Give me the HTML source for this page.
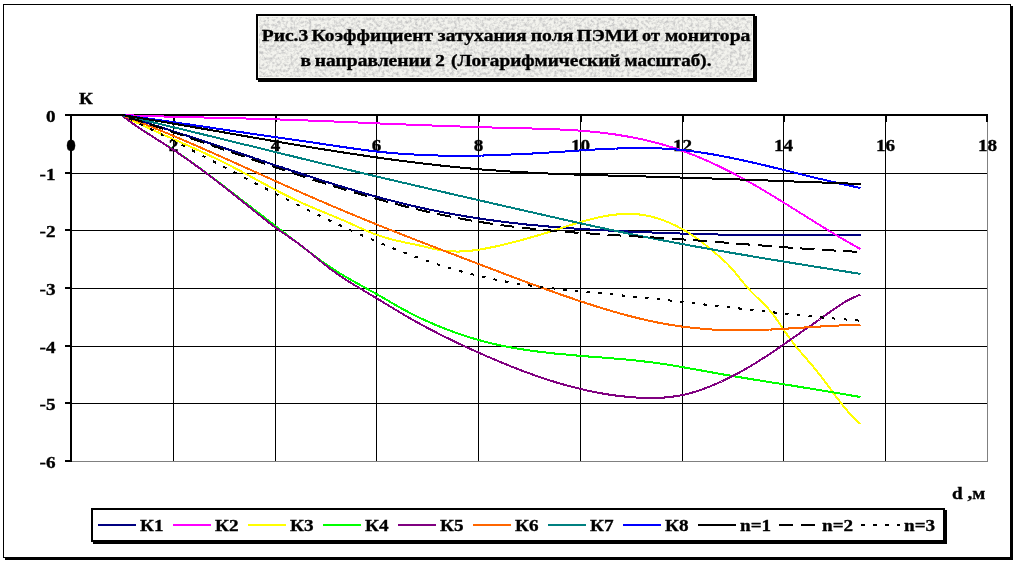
<!DOCTYPE html>
<html><head><meta charset="utf-8"><title>Рис.3</title>
<style>html,body{margin:0;padding:0;background:#fff;width:1017px;height:563px;overflow:hidden}svg{display:block}</style>
</head><body>
<svg width="1017" height="563" viewBox="0 0 1017 563">
<defs>
<filter id="granite" x="0" y="0" width="100%" height="100%" color-interpolation-filters="sRGB">
<feTurbulence type="fractalNoise" baseFrequency="0.33" numOctaves="3" seed="11" result="n"/>
<feColorMatrix in="n" type="matrix" values="0 0 0 0 0  0 0 0 0 0  0 0 0 0 0  -2.4 0 0 0 1.45" result="a"/>
<feFlood flood-color="#f3f3ee" result="bg"/>
<feFlood flood-color="#c4c4c4" result="dk"/>
<feComposite in="dk" in2="a" operator="in" result="dk2"/>
<feMerge><feMergeNode in="bg"/><feMergeNode in="dk2"/></feMerge>
</filter>
</defs>
<rect width="1017" height="563" fill="#fff"/>
<g shape-rendering="crispEdges">
<rect x="1011" y="6" width="2" height="554" fill="#000"/>
<rect x="5" y="558" width="1008" height="2" fill="#000"/>
<rect x="3.5" y="4.5" width="1007" height="553" fill="none" stroke="#000" stroke-width="1"/>
</g>
<g shape-rendering="crispEdges">
<rect x="258" y="16" width="499" height="66" fill="#000"/>
<rect x="256" y="14" width="499" height="66" fill="#000"/>
<rect x="258" y="16" width="495" height="62" fill="#fafaf5"/>
<rect x="259" y="17" width="493" height="60" filter="url(#granite)"/>
</g>
<g style="font-family:'Liberation Serif','Times New Roman',serif;font-weight:bold;font-size:17.7px" fill="#000" stroke="#000" stroke-width="0.35">
<text x="261.7" y="41" textLength="46.6" lengthAdjust="spacingAndGlyphs">Рис.3</text>
<text x="311.6" y="41" textLength="121.4" lengthAdjust="spacingAndGlyphs">Коэффициент</text>
<text x="437.8" y="41" textLength="88.8" lengthAdjust="spacingAndGlyphs">затухания</text>
<text x="530.7" y="41" textLength="42.8" lengthAdjust="spacingAndGlyphs">поля</text>
<text x="576.8" y="41" textLength="61.2" lengthAdjust="spacingAndGlyphs">ПЭМИ</text>
<text x="642.1" y="41" textLength="17.9" lengthAdjust="spacingAndGlyphs">от</text>
<text x="664.9" y="41" textLength="85.5" lengthAdjust="spacingAndGlyphs">монитора</text>
<text x="300.6" y="66" textLength="10.5" lengthAdjust="spacingAndGlyphs">в</text>
<text x="314.8" y="66" textLength="116.2" lengthAdjust="spacingAndGlyphs">направлении</text>
<text x="435.3" y="66" textLength="9.6" lengthAdjust="spacingAndGlyphs">2</text>
<text x="451.1" y="66" textLength="169.3" lengthAdjust="spacingAndGlyphs">(Логарифмический</text>
<text x="624.5" y="66" textLength="87.0" lengthAdjust="spacingAndGlyphs">масштаб).</text>
</g>
<g style="font-family:'Liberation Serif','Times New Roman',serif;font-weight:bold;font-size:17.7px" fill="#000" stroke="#000" stroke-width="0.35">
<text transform="translate(79,104) scale(1.083,1)">К</text>
<text transform="translate(952,499) scale(1.083,1)">d ,м</text>
<text transform="translate(55.5,122) scale(1.083,1)" text-anchor="end">0</text>
<text transform="translate(55.5,180) scale(1.083,1)" text-anchor="end">-1</text>
<text transform="translate(55.5,237) scale(1.083,1)" text-anchor="end">-2</text>
<text transform="translate(55.5,295) scale(1.083,1)" text-anchor="end">-3</text>
<text transform="translate(55.5,353) scale(1.083,1)" text-anchor="end">-4</text>
<text transform="translate(55.5,410) scale(1.083,1)" text-anchor="end">-5</text>
<text transform="translate(55.5,468) scale(1.083,1)" text-anchor="end">-6</text>
<text transform="translate(71,151) scale(1.083,1)" text-anchor="middle">0</text>
<text transform="translate(173.5,151) scale(1.083,1)" text-anchor="middle">2</text>
<text transform="translate(275.5,151) scale(1.083,1)" text-anchor="middle">4</text>
<text transform="translate(376.5,151) scale(1.083,1)" text-anchor="middle">6</text>
<text transform="translate(478.5,151) scale(1.083,1)" text-anchor="middle">8</text>
<text transform="translate(580.5,151) scale(1.083,1)" text-anchor="middle">10</text>
<text transform="translate(682.5,151) scale(1.083,1)" text-anchor="middle">12</text>
<text transform="translate(783.5,151) scale(1.083,1)" text-anchor="middle">14</text>
<text transform="translate(885.5,151) scale(1.083,1)" text-anchor="middle">16</text>
<text transform="translate(987.5,151) scale(1.083,1)" text-anchor="middle">18</text>
</g>
<ellipse cx="71" cy="145" rx="3.3" ry="5.2" fill="#000"/>
<g shape-rendering="crispEdges" fill="#000">
<rect x="173" y="116" width="1" height="345"/>
<rect x="275" y="116" width="1" height="345"/>
<rect x="376" y="116" width="1" height="345"/>
<rect x="478" y="116" width="1" height="345"/>
<rect x="580" y="116" width="1" height="345"/>
<rect x="682" y="116" width="1" height="345"/>
<rect x="783" y="116" width="1" height="345"/>
<rect x="885" y="116" width="1" height="345"/>
<rect x="72" y="173" width="915" height="1"/>
<rect x="72" y="230" width="915" height="1"/>
<rect x="72" y="288" width="915" height="1"/>
<rect x="72" y="346" width="915" height="1"/>
<rect x="72" y="403" width="915" height="1"/>
<rect x="987" y="116" width="1" height="346" fill="#808080"/>
<rect x="72" y="461" width="916" height="1" fill="#808080"/>
<rect x="173" y="116" width="2" height="6"/>
<rect x="275" y="116" width="2" height="6"/>
<rect x="376" y="116" width="2" height="6"/>
<rect x="478" y="116" width="2" height="6"/>
<rect x="580" y="116" width="2" height="6"/>
<rect x="682" y="116" width="2" height="6"/>
<rect x="783" y="116" width="2" height="6"/>
<rect x="885" y="116" width="2" height="6"/>
<rect x="986" y="116" width="2" height="6"/>
<rect x="65" y="114" width="5" height="2"/>
<rect x="65" y="172" width="5" height="2"/>
<rect x="65" y="229" width="5" height="2"/>
<rect x="65" y="287" width="5" height="2"/>
<rect x="65" y="345" width="5" height="2"/>
<rect x="65" y="402" width="5" height="2"/>
<rect x="65" y="460" width="5" height="2"/>
<rect x="70" y="114" width="918" height="2"/>
<rect x="70" y="114" width="2" height="348"/>
</g>
<g fill="none" stroke-width="2" stroke-linejoin="round" shape-rendering="crispEdges">
<path d="M121.5,115.0 L123.5,115.6 L125.5,116.2 L127.5,116.8 L129.5,117.5 L131.5,118.1 L133.5,118.7 L135.5,119.3 L137.5,119.9 L139.5,120.5 L141.5,121.2 L143.5,121.8 L145.5,122.4 L147.5,123.0 L149.5,123.7 L151.5,124.3 L153.5,124.9 L155.5,125.6 L157.5,126.2 L159.5,126.8 L161.5,127.5 L163.5,128.1 L165.5,128.8 L167.5,129.4 L169.5,130.0 L171.5,130.7 L173.5,131.3 L175.5,132.0 L177.5,132.6 L179.5,133.3 L181.5,133.9 L183.5,134.6 L185.5,135.2 L187.5,135.9 L189.5,136.5 L191.5,137.2 L193.5,137.9 L195.5,138.5 L197.5,139.2 L199.5,139.8 L201.5,140.5 L203.5,141.2 L205.5,141.8 L207.5,142.5 L209.5,143.1 L211.5,143.8 L213.5,144.5 L215.5,145.1 L217.5,145.8 L219.5,146.5 L221.5,147.2 L223.5,147.8 L225.5,148.5 L227.5,149.2 L229.5,149.8 L231.5,150.5 L233.5,151.2 L235.5,151.8 L237.5,152.5 L239.5,153.2 L241.5,153.9 L243.5,154.5 L245.5,155.2 L247.5,155.9 L249.5,156.5 L251.5,157.2 L253.5,157.9 L255.5,158.6 L257.5,159.2 L259.5,159.9 L261.5,160.6 L263.5,161.2 L265.5,161.9 L267.5,162.6 L269.5,163.3 L271.5,163.9 L273.5,164.6 L275.5,165.3 L277.5,165.9 L279.5,166.6 L281.5,167.2 L283.5,167.9 L285.5,168.6 L287.5,169.2 L289.5,169.9 L291.5,170.6 L293.5,171.2 L295.5,171.9 L297.5,172.5 L299.5,173.2 L301.5,173.8 L303.5,174.5 L305.5,175.1 L307.5,175.8 L309.5,176.4 L311.5,177.1 L313.5,177.7 L315.5,178.4 L317.5,179.0 L319.5,179.7 L321.5,180.3 L323.5,180.9 L325.5,181.6 L327.5,182.2 L329.5,182.8 L331.5,183.4 L333.5,184.1 L335.5,184.7 L337.5,185.3 L339.5,185.9 L341.5,186.5 L343.5,187.1 L345.5,187.7 L347.5,188.3 L349.5,188.9 L351.5,189.5 L353.5,190.1 L355.5,190.7 L357.5,191.3 L359.5,191.9 L361.5,192.5 L363.5,193.1 L365.5,193.6 L367.5,194.2 L369.5,194.8 L371.5,195.3 L373.5,195.9 L375.5,196.4 L377.5,197.0 L379.5,197.5 L381.5,198.1 L383.5,198.6 L385.5,199.1 L387.5,199.7 L389.5,200.2 L391.5,200.7 L393.5,201.2 L395.5,201.7 L397.5,202.2 L399.5,202.7 L401.5,203.2 L403.5,203.7 L405.5,204.2 L407.5,204.7 L409.5,205.1 L411.5,205.6 L413.5,206.1 L415.5,206.5 L417.5,207.0 L419.5,207.4 L421.5,207.8 L423.5,208.3 L425.5,208.7 L427.5,209.1 L429.5,209.6 L431.5,210.0 L433.5,210.4 L435.5,210.8 L437.5,211.2 L439.5,211.6 L441.5,212.0 L443.5,212.4 L445.5,212.8 L447.5,213.1 L449.5,213.5 L451.5,213.9 L453.5,214.2 L455.5,214.6 L457.5,215.0 L459.5,215.3 L461.5,215.6 L463.5,216.0 L465.5,216.3 L467.5,216.7 L469.5,217.0 L471.5,217.3 L473.5,217.6 L475.5,217.9 L477.5,218.2 L479.5,218.5 L481.5,218.8 L483.5,219.1 L485.5,219.4 L487.5,219.7 L489.5,220.0 L491.5,220.3 L493.5,220.5 L495.5,220.8 L497.5,221.1 L499.5,221.3 L501.5,221.6 L503.5,221.8 L505.5,222.1 L507.5,222.3 L509.5,222.6 L511.5,222.8 L513.5,223.0 L515.5,223.3 L517.5,223.5 L519.5,223.7 L521.5,223.9 L523.5,224.1 L525.5,224.4 L527.5,224.6 L529.5,224.8 L531.5,225.0 L533.5,225.2 L535.5,225.4 L537.5,225.5 L539.5,225.7 L541.5,225.9 L543.5,226.1 L545.5,226.3 L547.5,226.4 L549.5,226.6 L551.5,226.8 L553.5,227.0 L555.5,227.1 L557.5,227.3 L559.5,227.4 L561.5,227.6 L563.5,227.7 L565.5,227.9 L567.5,228.0 L569.5,228.2 L571.5,228.3 L573.5,228.5 L575.5,228.6 L577.5,228.7 L579.5,228.9 L581.5,229.0 L583.5,229.1 L585.5,229.2 L587.5,229.4 L589.5,229.5 L591.5,229.6 L593.5,229.7 L595.5,229.8 L597.5,230.0 L599.5,230.1 L601.5,230.2 L603.5,230.3 L605.5,230.4 L607.5,230.5 L609.5,230.6 L611.5,230.7 L613.5,230.8 L615.5,230.9 L617.5,231.0 L619.5,231.1 L621.5,231.2 L623.5,231.3 L625.5,231.4 L627.5,231.5 L629.5,231.6 L631.5,231.7 L633.5,231.7 L635.5,231.8 L637.5,231.9 L639.5,232.0 L641.5,232.1 L643.5,232.2 L645.5,232.3 L647.5,232.3 L649.5,232.4 L651.5,232.5 L653.5,232.6 L655.5,232.6 L657.5,232.7 L659.5,232.8 L661.5,232.9 L663.5,232.9 L665.5,233.0 L667.5,233.1 L669.5,233.1 L671.5,233.2 L673.5,233.3 L675.5,233.3 L677.5,233.4 L679.5,233.5 L681.5,233.5 L683.5,233.6 L685.5,233.7 L687.5,233.7 L689.5,233.8 L691.5,233.8 L693.5,233.9 L695.5,233.9 L697.5,234.0 L699.5,234.0 L701.5,234.1 L703.5,234.2 L705.5,234.2 L707.5,234.2 L709.5,234.3 L711.5,234.3 L713.5,234.4 L715.5,234.4 L717.5,234.5 L719.5,234.5 L721.5,234.6 L723.5,234.6 L725.5,234.6 L727.5,234.7 L729.5,234.7 L731.5,234.7 L733.5,234.8 L735.5,234.8 L737.5,234.8 L739.5,234.9 L741.5,234.9 L743.5,234.9 L745.5,235.0 L747.5,235.0 L749.5,235.0 L751.5,235.0 L753.5,235.1 L755.5,235.1 L757.5,235.1 L759.5,235.1 L761.5,235.1 L763.5,235.2 L765.5,235.2 L767.5,235.2 L769.5,235.2 L771.5,235.2 L773.5,235.2 L775.5,235.3 L777.5,235.3 L779.5,235.3 L781.5,235.3 L783.5,235.3 L785.5,235.3 L787.5,235.3 L789.5,235.3 L791.5,235.3 L793.5,235.3 L795.5,235.3 L797.5,235.3 L799.5,235.3 L801.5,235.3 L803.5,235.3 L805.5,235.3 L807.5,235.3 L809.5,235.3 L811.5,235.3 L813.5,235.3 L815.5,235.3 L817.5,235.3 L819.5,235.3 L821.5,235.2 L823.5,235.2 L825.5,235.2 L827.5,235.2 L829.5,235.2 L831.5,235.2 L833.5,235.1 L835.5,235.1 L837.5,235.1 L839.5,235.1 L841.5,235.1 L843.5,235.0 L845.5,235.0 L847.5,235.0 L849.5,235.0 L851.5,234.9 L853.5,234.9 L855.5,234.9 L857.5,234.8 L859.5,234.8 L860.5,234.8" stroke="#000080"/>
<path d="M121.5,115.0 L123.5,115.1 L125.5,115.2 L127.5,115.2 L129.5,115.3 L131.5,115.4 L133.5,115.5 L135.5,115.6 L137.5,115.6 L139.5,115.7 L141.5,115.8 L143.5,115.8 L145.5,115.9 L147.5,116.0 L149.5,116.0 L151.5,116.1 L153.5,116.2 L155.5,116.2 L157.5,116.3 L159.5,116.3 L161.5,116.4 L163.5,116.5 L165.5,116.5 L167.5,116.6 L169.5,116.6 L171.5,116.7 L173.5,116.7 L175.5,116.8 L177.5,116.8 L179.5,116.9 L181.5,116.9 L183.5,117.0 L185.5,117.0 L187.5,117.1 L189.5,117.1 L191.5,117.2 L193.5,117.2 L195.5,117.3 L197.5,117.3 L199.5,117.4 L201.5,117.4 L203.5,117.5 L205.5,117.5 L207.5,117.6 L209.5,117.6 L211.5,117.7 L213.5,117.7 L215.5,117.8 L217.5,117.8 L219.5,117.9 L221.5,117.9 L223.5,117.9 L225.5,118.0 L227.5,118.0 L229.5,118.1 L231.5,118.1 L233.5,118.2 L235.5,118.2 L237.5,118.3 L239.5,118.3 L241.5,118.4 L243.5,118.4 L245.5,118.5 L247.5,118.5 L249.5,118.6 L251.5,118.6 L253.5,118.7 L255.5,118.7 L257.5,118.8 L259.5,118.9 L261.5,118.9 L263.5,119.0 L265.5,119.0 L267.5,119.1 L269.5,119.1 L271.5,119.2 L273.5,119.3 L275.5,119.3 L277.5,119.4 L279.5,119.5 L281.5,119.5 L283.5,119.6 L285.5,119.7 L287.5,119.7 L289.5,119.8 L291.5,119.9 L293.5,119.9 L295.5,120.0 L297.5,120.1 L299.5,120.2 L301.5,120.2 L303.5,120.3 L305.5,120.4 L307.5,120.5 L309.5,120.5 L311.5,120.6 L313.5,120.7 L315.5,120.8 L317.5,120.9 L319.5,120.9 L321.5,121.0 L323.5,121.1 L325.5,121.2 L327.5,121.3 L329.5,121.3 L331.5,121.4 L333.5,121.5 L335.5,121.6 L337.5,121.7 L339.5,121.8 L341.5,121.9 L343.5,121.9 L345.5,122.0 L347.5,122.1 L349.5,122.2 L351.5,122.3 L353.5,122.4 L355.5,122.4 L357.5,122.5 L359.5,122.6 L361.5,122.7 L363.5,122.8 L365.5,122.9 L367.5,123.0 L369.5,123.0 L371.5,123.1 L373.5,123.2 L375.5,123.3 L377.5,123.4 L379.5,123.5 L381.5,123.5 L383.5,123.6 L385.5,123.7 L387.5,123.8 L389.5,123.9 L391.5,124.0 L393.5,124.0 L395.5,124.1 L397.5,124.2 L399.5,124.3 L401.5,124.4 L403.5,124.4 L405.5,124.5 L407.5,124.6 L409.5,124.7 L411.5,124.8 L413.5,124.8 L415.5,124.9 L417.5,125.0 L419.5,125.1 L421.5,125.1 L423.5,125.2 L425.5,125.3 L427.5,125.4 L429.5,125.4 L431.5,125.5 L433.5,125.6 L435.5,125.7 L437.5,125.7 L439.5,125.8 L441.5,125.9 L443.5,126.0 L445.5,126.0 L447.5,126.1 L449.5,126.2 L451.5,126.2 L453.5,126.3 L455.5,126.4 L457.5,126.4 L459.5,126.5 L461.5,126.6 L463.5,126.6 L465.5,126.7 L467.5,126.8 L469.5,126.8 L471.5,126.9 L473.5,126.9 L475.5,127.0 L477.5,127.1 L479.5,127.1 L481.5,127.2 L483.5,127.2 L485.5,127.3 L487.5,127.4 L489.5,127.4 L491.5,127.5 L493.5,127.5 L495.5,127.6 L497.5,127.6 L499.5,127.7 L501.5,127.7 L503.5,127.8 L505.5,127.8 L507.5,127.9 L509.5,127.9 L511.5,128.0 L513.5,128.0 L515.5,128.1 L517.5,128.1 L519.5,128.2 L521.5,128.2 L523.5,128.3 L525.5,128.3 L527.5,128.4 L529.5,128.4 L531.5,128.5 L533.5,128.5 L535.5,128.6 L537.5,128.6 L539.5,128.7 L541.5,128.8 L543.5,128.8 L545.5,128.9 L547.5,129.0 L549.5,129.0 L551.5,129.1 L553.5,129.2 L555.5,129.3 L557.5,129.4 L559.5,129.5 L561.5,129.5 L563.5,129.6 L565.5,129.8 L567.5,129.9 L569.5,130.0 L571.5,130.1 L573.5,130.2 L575.5,130.4 L577.5,130.5 L579.5,130.6 L581.5,130.8 L583.5,131.0 L585.5,131.1 L587.5,131.3 L589.5,131.5 L591.5,131.7 L593.5,131.8 L595.5,132.1 L597.5,132.3 L599.5,132.5 L601.5,132.7 L603.5,132.9 L605.5,133.2 L607.5,133.4 L609.5,133.7 L611.5,134.0 L613.5,134.2 L615.5,134.5 L617.5,134.8 L619.5,135.1 L621.5,135.5 L623.5,135.8 L625.5,136.1 L627.5,136.5 L629.5,136.8 L631.5,137.2 L633.5,137.6 L635.5,138.0 L637.5,138.4 L639.5,138.8 L641.5,139.2 L643.5,139.7 L645.5,140.1 L647.5,140.6 L649.5,141.1 L651.5,141.6 L653.5,142.1 L655.5,142.6 L657.5,143.1 L659.5,143.7 L661.5,144.2 L663.5,144.8 L665.5,145.4 L667.5,146.0 L669.5,146.6 L671.5,147.2 L673.5,147.8 L675.5,148.5 L677.5,149.2 L679.5,149.8 L681.5,150.5 L683.5,151.3 L685.5,152.0 L687.5,152.7 L689.5,153.5 L691.5,154.3 L693.5,155.0 L695.5,155.8 L697.5,156.7 L699.5,157.5 L701.5,158.3 L703.5,159.2 L705.5,160.1 L707.5,160.9 L709.5,161.8 L711.5,162.7 L713.5,163.7 L715.5,164.6 L717.5,165.6 L719.5,166.5 L721.5,167.5 L723.5,168.5 L725.5,169.5 L727.5,170.5 L729.5,171.5 L731.5,172.5 L733.5,173.5 L735.5,174.6 L737.5,175.7 L739.5,176.7 L741.5,177.8 L743.5,178.9 L745.5,180.0 L747.5,181.1 L749.5,182.2 L751.5,183.3 L753.5,184.5 L755.5,185.6 L757.5,186.8 L759.5,187.9 L761.5,189.1 L763.5,190.3 L765.5,191.5 L767.5,192.7 L769.5,193.9 L771.5,195.1 L773.5,196.3 L775.5,197.5 L777.5,198.7 L779.5,200.0 L781.5,201.2 L783.5,202.4 L785.5,203.7 L787.5,204.9 L789.5,206.2 L791.5,207.4 L793.5,208.7 L795.5,209.9 L797.5,211.2 L799.5,212.4 L801.5,213.7 L803.5,214.9 L805.5,216.2 L807.5,217.4 L809.5,218.7 L811.5,219.9 L813.5,221.2 L815.5,222.4 L817.5,223.7 L819.5,224.9 L821.5,226.2 L823.5,227.4 L825.5,228.6 L827.5,229.8 L829.5,231.1 L831.5,232.3 L833.5,233.5 L835.5,234.7 L837.5,235.9 L839.5,237.1 L841.5,238.2 L843.5,239.4 L845.5,240.6 L847.5,241.7 L849.5,242.9 L851.5,244.0 L853.5,245.1 L855.5,246.3 L857.5,247.4 L859.5,248.5 L860.5,249.0" stroke="#FF00FF"/>
<path d="M121.5,115.0 L123.5,116.0 L125.5,117.0 L127.5,118.0 L129.5,119.0 L131.5,120.0 L133.5,120.9 L135.5,121.9 L137.5,122.9 L139.5,123.8 L141.5,124.8 L143.5,125.7 L145.5,126.6 L147.5,127.5 L149.5,128.4 L151.5,129.4 L153.5,130.3 L155.5,131.2 L157.5,132.1 L159.5,133.0 L161.5,133.9 L163.5,134.8 L165.5,135.6 L167.5,136.5 L169.5,137.4 L171.5,138.3 L173.5,139.2 L175.5,140.1 L177.5,141.0 L179.5,141.8 L181.5,142.7 L183.5,143.6 L185.5,144.5 L187.5,145.4 L189.5,146.3 L191.5,147.2 L193.5,148.1 L195.5,149.0 L197.5,149.9 L199.5,150.8 L201.5,151.7 L203.5,152.6 L205.5,153.6 L207.5,154.5 L209.5,155.5 L211.5,156.4 L213.5,157.4 L215.5,158.3 L217.5,159.3 L219.5,160.3 L221.5,161.3 L223.5,162.2 L225.5,163.3 L227.5,164.3 L229.5,165.3 L231.5,166.3 L233.5,167.4 L235.5,168.4 L237.5,169.5 L239.5,170.5 L241.5,171.6 L243.5,172.7 L245.5,173.7 L247.5,174.8 L249.5,175.9 L251.5,177.0 L253.5,178.1 L255.5,179.1 L257.5,180.2 L259.5,181.3 L261.5,182.4 L263.5,183.5 L265.5,184.5 L267.5,185.6 L269.5,186.7 L271.5,187.7 L273.5,188.8 L275.5,189.8 L277.5,190.9 L279.5,191.9 L281.5,193.0 L283.5,194.0 L285.5,195.0 L287.5,196.0 L289.5,197.0 L291.5,198.0 L293.5,198.9 L295.5,199.9 L297.5,200.8 L299.5,201.8 L301.5,202.7 L303.5,203.6 L305.5,204.5 L307.5,205.4 L309.5,206.2 L311.5,207.1 L313.5,207.9 L315.5,208.8 L317.5,209.6 L319.5,210.5 L321.5,211.3 L323.5,212.1 L325.5,212.9 L327.5,213.8 L329.5,214.6 L331.5,215.4 L333.5,216.2 L335.5,217.1 L337.5,217.9 L339.5,218.7 L341.5,219.6 L343.5,220.4 L345.5,221.3 L347.5,222.2 L349.5,223.0 L351.5,223.9 L353.5,224.9 L355.5,225.8 L357.5,226.7 L359.5,227.6 L361.5,228.5 L363.5,229.4 L365.5,230.3 L367.5,231.1 L369.5,232.0 L371.5,232.8 L373.5,233.6 L375.5,234.3 L377.5,235.1 L379.5,235.7 L381.5,236.4 L383.5,237.0 L385.5,237.6 L387.5,238.2 L389.5,238.8 L391.5,239.3 L393.5,239.8 L395.5,240.3 L397.5,240.8 L399.5,241.2 L401.5,241.7 L403.5,242.1 L405.5,242.6 L407.5,243.0 L409.5,243.4 L411.5,243.8 L413.5,244.2 L415.5,244.7 L417.5,245.1 L419.5,245.5 L421.5,246.0 L423.5,246.4 L425.5,246.9 L427.5,247.4 L429.5,247.8 L431.5,248.3 L433.5,248.8 L435.5,249.2 L437.5,249.6 L439.5,250.0 L441.5,250.3 L443.5,250.6 L445.5,250.9 L447.5,251.1 L449.5,251.2 L451.5,251.4 L453.5,251.4 L455.5,251.5 L457.5,251.5 L459.5,251.5 L461.5,251.4 L463.5,251.3 L465.5,251.2 L467.5,251.0 L469.5,250.8 L471.5,250.6 L473.5,250.4 L475.5,250.1 L477.5,249.9 L479.5,249.6 L481.5,249.2 L483.5,248.9 L485.5,248.5 L487.5,248.1 L489.5,247.7 L491.5,247.3 L493.5,246.9 L495.5,246.5 L497.5,246.0 L499.5,245.6 L501.5,245.1 L503.5,244.6 L505.5,244.1 L507.5,243.7 L509.5,243.2 L511.5,242.7 L513.5,242.2 L515.5,241.6 L517.5,241.1 L519.5,240.6 L521.5,240.0 L523.5,239.5 L525.5,238.9 L527.5,238.4 L529.5,237.8 L531.5,237.2 L533.5,236.7 L535.5,236.1 L537.5,235.5 L539.5,234.9 L541.5,234.3 L543.5,233.7 L545.5,233.1 L547.5,232.5 L549.5,231.8 L551.5,231.2 L553.5,230.6 L555.5,229.9 L557.5,229.3 L559.5,228.6 L561.5,228.0 L563.5,227.3 L565.5,226.7 L567.5,226.1 L569.5,225.4 L571.5,224.8 L573.5,224.2 L575.5,223.6 L577.5,223.0 L579.5,222.4 L581.5,221.8 L583.5,221.2 L585.5,220.6 L587.5,220.1 L589.5,219.6 L591.5,219.0 L593.5,218.6 L595.5,218.1 L597.5,217.6 L599.5,217.2 L601.5,216.8 L603.5,216.4 L605.5,216.0 L607.5,215.7 L609.5,215.3 L611.5,215.0 L613.5,214.8 L615.5,214.6 L617.5,214.4 L619.5,214.2 L621.5,214.1 L623.5,214.0 L625.5,213.9 L627.5,213.9 L629.5,213.9 L631.5,213.9 L633.5,214.0 L635.5,214.1 L637.5,214.3 L639.5,214.5 L641.5,214.8 L643.5,215.1 L645.5,215.4 L647.5,215.8 L649.5,216.2 L651.5,216.7 L653.5,217.2 L655.5,217.8 L657.5,218.4 L659.5,219.0 L661.5,219.7 L663.5,220.4 L665.5,221.2 L667.5,222.0 L669.5,222.8 L671.5,223.7 L673.5,224.6 L675.5,225.6 L677.5,226.6 L679.5,227.7 L681.5,228.7 L683.5,229.9 L685.5,231.0 L687.5,232.2 L689.5,233.5 L691.5,234.8 L693.5,236.1 L695.5,237.5 L697.5,238.9 L699.5,240.4 L701.5,241.9 L703.5,243.4 L705.5,245.0 L707.5,246.6 L709.5,248.2 L711.5,249.9 L713.5,251.6 L715.5,253.3 L717.5,255.0 L719.5,256.7 L721.5,258.5 L723.5,260.2 L725.5,262.1 L727.5,264.0 L729.5,266.1 L731.5,268.3 L733.5,270.6 L735.5,273.0 L737.5,275.5 L739.5,277.9 L741.5,280.4 L743.5,282.9 L745.5,285.3 L747.5,287.6 L749.5,289.9 L751.5,292.0 L753.5,294.0 L755.5,296.0 L757.5,297.9 L759.5,299.8 L761.5,301.7 L763.5,303.6 L765.5,305.6 L767.5,307.8 L769.5,310.1 L771.5,312.5 L773.5,315.1 L775.5,317.8 L777.5,320.6 L779.5,323.4 L781.5,326.3 L783.5,329.3 L785.5,332.3 L787.5,335.2 L789.5,338.1 L791.5,340.8 L793.5,343.4 L795.5,346.0 L797.5,348.4 L799.5,350.8 L801.5,353.1 L803.5,355.4 L805.5,357.7 L807.5,360.0 L809.5,362.3 L811.5,364.6 L813.5,367.0 L815.5,369.5 L817.5,372.0 L819.5,374.5 L821.5,377.1 L823.5,379.8 L825.5,382.4 L827.5,385.1 L829.5,387.8 L831.5,390.5 L833.5,393.2 L835.5,395.9 L837.5,398.5 L839.5,401.1 L841.5,403.7 L843.5,406.2 L845.5,408.7 L847.5,411.0 L849.5,413.3 L851.5,415.5 L853.5,417.6 L855.5,419.6 L857.5,421.5 L859.5,423.2 L860.5,424.0" stroke="#FFFF00"/>
<path d="M121.5,115.0 L123.5,116.6 L125.5,118.1 L127.5,119.6 L129.5,121.1 L131.5,122.5 L133.5,124.0 L135.5,125.4 L137.5,126.7 L139.5,128.1 L141.5,129.4 L143.5,130.7 L145.5,132.0 L147.5,133.3 L149.5,134.6 L151.5,135.9 L153.5,137.2 L155.5,138.4 L157.5,139.7 L159.5,140.9 L161.5,142.2 L163.5,143.4 L165.5,144.7 L167.5,146.0 L169.5,147.3 L171.5,148.6 L173.5,149.9 L175.5,151.2 L177.5,152.5 L179.5,153.9 L181.5,155.2 L183.5,156.6 L185.5,158.0 L187.5,159.4 L189.5,160.8 L191.5,162.2 L193.5,163.7 L195.5,165.1 L197.5,166.6 L199.5,168.0 L201.5,169.5 L203.5,171.0 L205.5,172.4 L207.5,173.9 L209.5,175.4 L211.5,176.9 L213.5,178.4 L215.5,179.9 L217.5,181.4 L219.5,183.0 L221.5,184.5 L223.5,186.0 L225.5,187.5 L227.5,189.1 L229.5,190.6 L231.5,192.1 L233.5,193.6 L235.5,195.2 L237.5,196.7 L239.5,198.2 L241.5,199.8 L243.5,201.3 L245.5,202.9 L247.5,204.4 L249.5,205.9 L251.5,207.5 L253.5,209.0 L255.5,210.6 L257.5,212.1 L259.5,213.7 L261.5,215.2 L263.5,216.7 L265.5,218.3 L267.5,219.8 L269.5,221.4 L271.5,222.9 L273.5,224.5 L275.5,226.0 L277.5,227.6 L279.5,229.1 L281.5,230.6 L283.5,232.2 L285.5,233.7 L287.5,235.3 L289.5,236.8 L291.5,238.4 L293.5,239.9 L295.5,241.4 L297.5,243.0 L299.5,244.5 L301.5,246.1 L303.5,247.6 L305.5,249.1 L307.5,250.7 L309.5,252.2 L311.5,253.7 L313.5,255.2 L315.5,256.7 L317.5,258.2 L319.5,259.6 L321.5,261.1 L323.5,262.5 L325.5,263.9 L327.5,265.3 L329.5,266.6 L331.5,268.0 L333.5,269.3 L335.5,270.6 L337.5,271.8 L339.5,273.1 L341.5,274.3 L343.5,275.5 L345.5,276.7 L347.5,277.8 L349.5,279.0 L351.5,280.1 L353.5,281.3 L355.5,282.4 L357.5,283.5 L359.5,284.6 L361.5,285.7 L363.5,286.8 L365.5,287.9 L367.5,289.0 L369.5,290.1 L371.5,291.2 L373.5,292.3 L375.5,293.4 L377.5,294.6 L379.5,295.7 L381.5,296.9 L383.5,298.0 L385.5,299.2 L387.5,300.3 L389.5,301.5 L391.5,302.7 L393.5,303.8 L395.5,305.0 L397.5,306.1 L399.5,307.2 L401.5,308.4 L403.5,309.5 L405.5,310.6 L407.5,311.6 L409.5,312.7 L411.5,313.7 L413.5,314.7 L415.5,315.7 L417.5,316.7 L419.5,317.7 L421.5,318.6 L423.5,319.6 L425.5,320.5 L427.5,321.4 L429.5,322.3 L431.5,323.1 L433.5,324.0 L435.5,324.9 L437.5,325.7 L439.5,326.5 L441.5,327.3 L443.5,328.1 L445.5,328.9 L447.5,329.7 L449.5,330.4 L451.5,331.2 L453.5,331.9 L455.5,332.6 L457.5,333.4 L459.5,334.0 L461.5,334.7 L463.5,335.4 L465.5,336.0 L467.5,336.7 L469.5,337.3 L471.5,337.9 L473.5,338.5 L475.5,339.1 L477.5,339.7 L479.5,340.2 L481.5,340.8 L483.5,341.3 L485.5,341.8 L487.5,342.4 L489.5,342.8 L491.5,343.3 L493.5,343.8 L495.5,344.3 L497.5,344.7 L499.5,345.1 L501.5,345.6 L503.5,346.0 L505.5,346.4 L507.5,346.8 L509.5,347.1 L511.5,347.5 L513.5,347.9 L515.5,348.2 L517.5,348.6 L519.5,348.9 L521.5,349.2 L523.5,349.5 L525.5,349.8 L527.5,350.1 L529.5,350.4 L531.5,350.7 L533.5,351.0 L535.5,351.2 L537.5,351.5 L539.5,351.8 L541.5,352.0 L543.5,352.3 L545.5,352.5 L547.5,352.7 L549.5,352.9 L551.5,353.2 L553.5,353.4 L555.5,353.6 L557.5,353.8 L559.5,354.0 L561.5,354.2 L563.5,354.4 L565.5,354.5 L567.5,354.7 L569.5,354.9 L571.5,355.1 L573.5,355.3 L575.5,355.4 L577.5,355.6 L579.5,355.8 L581.5,355.9 L583.5,356.1 L585.5,356.2 L587.5,356.4 L589.5,356.6 L591.5,356.7 L593.5,356.9 L595.5,357.0 L597.5,357.2 L599.5,357.4 L601.5,357.5 L603.5,357.7 L605.5,357.8 L607.5,358.0 L609.5,358.1 L611.5,358.3 L613.5,358.5 L615.5,358.6 L617.5,358.8 L619.5,359.0 L621.5,359.2 L623.5,359.3 L625.5,359.5 L627.5,359.7 L629.5,359.9 L631.5,360.1 L633.5,360.3 L635.5,360.5 L637.5,360.7 L639.5,360.9 L641.5,361.1 L643.5,361.4 L645.5,361.6 L647.5,361.8 L649.5,362.1 L651.5,362.3 L653.5,362.6 L655.5,362.9 L657.5,363.1 L659.5,363.4 L661.5,363.7 L663.5,364.0 L665.5,364.3 L667.5,364.6 L669.5,365.0 L671.5,365.3 L673.5,365.6 L675.5,365.9 L677.5,366.3 L679.5,366.6 L681.5,367.0 L683.5,367.3 L685.5,367.7 L687.5,368.0 L689.5,368.4 L691.5,368.7 L693.5,369.1 L695.5,369.4 L697.5,369.8 L699.5,370.2 L701.5,370.5 L703.5,370.9 L705.5,371.3 L707.5,371.6 L709.5,372.0 L711.5,372.3 L713.5,372.7 L715.5,373.1 L717.5,373.4 L719.5,373.8 L721.5,374.1 L723.5,374.5 L725.5,374.8 L727.5,375.1 L729.5,375.5 L731.5,375.8 L733.5,376.2 L735.5,376.5 L737.5,376.8 L739.5,377.2 L741.5,377.5 L743.5,377.8 L745.5,378.2 L747.5,378.5 L749.5,378.8 L751.5,379.1 L753.5,379.5 L755.5,379.8 L757.5,380.1 L759.5,380.4 L761.5,380.8 L763.5,381.1 L765.5,381.4 L767.5,381.7 L769.5,382.0 L771.5,382.4 L773.5,382.7 L775.5,383.0 L777.5,383.3 L779.5,383.6 L781.5,384.0 L783.5,384.3 L785.5,384.6 L787.5,384.9 L789.5,385.2 L791.5,385.5 L793.5,385.9 L795.5,386.2 L797.5,386.5 L799.5,386.8 L801.5,387.1 L803.5,387.5 L805.5,387.8 L807.5,388.1 L809.5,388.4 L811.5,388.7 L813.5,389.1 L815.5,389.4 L817.5,389.7 L819.5,390.0 L821.5,390.4 L823.5,390.7 L825.5,391.0 L827.5,391.4 L829.5,391.7 L831.5,392.0 L833.5,392.4 L835.5,392.7 L837.5,393.0 L839.5,393.4 L841.5,393.7 L843.5,394.1 L845.5,394.4 L847.5,394.8 L849.5,395.1 L851.5,395.5 L853.5,395.8 L855.5,396.2 L857.5,396.5 L859.5,396.9 L860.5,397.1" stroke="#00FF00"/>
<path d="M121.5,115.0 L123.5,116.6 L125.5,118.1 L127.5,119.6 L129.5,121.1 L131.5,122.5 L133.5,124.0 L135.5,125.4 L137.5,126.7 L139.5,128.1 L141.5,129.4 L143.5,130.8 L145.5,132.1 L147.5,133.4 L149.5,134.6 L151.5,135.9 L153.5,137.2 L155.5,138.5 L157.5,139.7 L159.5,141.0 L161.5,142.3 L163.5,143.5 L165.5,144.8 L167.5,146.1 L169.5,147.4 L171.5,148.7 L173.5,150.0 L175.5,151.3 L177.5,152.6 L179.5,154.0 L181.5,155.4 L183.5,156.7 L185.5,158.1 L187.5,159.5 L189.5,160.9 L191.5,162.4 L193.5,163.8 L195.5,165.3 L197.5,166.7 L199.5,168.2 L201.5,169.7 L203.5,171.1 L205.5,172.6 L207.5,174.1 L209.5,175.6 L211.5,177.2 L213.5,178.7 L215.5,180.2 L217.5,181.8 L219.5,183.3 L221.5,184.9 L223.5,186.4 L225.5,188.0 L227.5,189.6 L229.5,191.2 L231.5,192.7 L233.5,194.3 L235.5,195.9 L237.5,197.5 L239.5,199.1 L241.5,200.7 L243.5,202.3 L245.5,203.9 L247.5,205.5 L249.5,207.1 L251.5,208.8 L253.5,210.4 L255.5,212.0 L257.5,213.6 L259.5,215.2 L261.5,216.8 L263.5,218.4 L265.5,220.0 L267.5,221.5 L269.5,223.1 L271.5,224.6 L273.5,226.1 L275.5,227.5 L277.5,229.0 L279.5,230.4 L281.5,231.8 L283.5,233.1 L285.5,234.5 L287.5,235.9 L289.5,237.3 L291.5,238.7 L293.5,240.1 L295.5,241.5 L297.5,242.9 L299.5,244.4 L301.5,245.9 L303.5,247.4 L305.5,249.0 L307.5,250.6 L309.5,252.2 L311.5,253.8 L313.5,255.5 L315.5,257.1 L317.5,258.7 L319.5,260.4 L321.5,262.0 L323.5,263.6 L325.5,265.2 L327.5,266.7 L329.5,268.3 L331.5,269.8 L333.5,271.2 L335.5,272.7 L337.5,274.1 L339.5,275.5 L341.5,276.8 L343.5,278.1 L345.5,279.5 L347.5,280.7 L349.5,282.0 L351.5,283.3 L353.5,284.5 L355.5,285.7 L357.5,286.9 L359.5,288.1 L361.5,289.3 L363.5,290.5 L365.5,291.7 L367.5,292.9 L369.5,294.1 L371.5,295.3 L373.5,296.4 L375.5,297.6 L377.5,298.8 L379.5,300.0 L381.5,301.2 L383.5,302.4 L385.5,303.7 L387.5,304.9 L389.5,306.1 L391.5,307.3 L393.5,308.5 L395.5,309.7 L397.5,310.9 L399.5,312.1 L401.5,313.3 L403.5,314.5 L405.5,315.7 L407.5,316.9 L409.5,318.0 L411.5,319.2 L413.5,320.3 L415.5,321.4 L417.5,322.5 L419.5,323.6 L421.5,324.7 L423.5,325.8 L425.5,326.9 L427.5,327.9 L429.5,329.0 L431.5,330.1 L433.5,331.1 L435.5,332.1 L437.5,333.1 L439.5,334.2 L441.5,335.2 L443.5,336.2 L445.5,337.2 L447.5,338.1 L449.5,339.1 L451.5,340.1 L453.5,341.1 L455.5,342.0 L457.5,343.0 L459.5,343.9 L461.5,344.8 L463.5,345.8 L465.5,346.7 L467.5,347.6 L469.5,348.5 L471.5,349.4 L473.5,350.4 L475.5,351.3 L477.5,352.1 L479.5,353.0 L481.5,353.9 L483.5,354.8 L485.5,355.7 L487.5,356.6 L489.5,357.4 L491.5,358.3 L493.5,359.1 L495.5,360.0 L497.5,360.8 L499.5,361.7 L501.5,362.5 L503.5,363.3 L505.5,364.1 L507.5,365.0 L509.5,365.8 L511.5,366.6 L513.5,367.4 L515.5,368.1 L517.5,368.9 L519.5,369.7 L521.5,370.5 L523.5,371.2 L525.5,372.0 L527.5,372.7 L529.5,373.4 L531.5,374.2 L533.5,374.9 L535.5,375.6 L537.5,376.3 L539.5,377.0 L541.5,377.7 L543.5,378.3 L545.5,379.0 L547.5,379.6 L549.5,380.3 L551.5,380.9 L553.5,381.5 L555.5,382.2 L557.5,382.8 L559.5,383.4 L561.5,383.9 L563.5,384.5 L565.5,385.1 L567.5,385.6 L569.5,386.2 L571.5,386.7 L573.5,387.2 L575.5,387.7 L577.5,388.2 L579.5,388.7 L581.5,389.2 L583.5,389.7 L585.5,390.1 L587.5,390.6 L589.5,391.0 L591.5,391.4 L593.5,391.8 L595.5,392.2 L597.5,392.6 L599.5,393.0 L601.5,393.3 L603.5,393.7 L605.5,394.0 L607.5,394.3 L609.5,394.7 L611.5,394.9 L613.5,395.2 L615.5,395.5 L617.5,395.8 L619.5,396.0 L621.5,396.2 L623.5,396.4 L625.5,396.6 L627.5,396.8 L629.5,397.0 L631.5,397.2 L633.5,397.3 L635.5,397.5 L637.5,397.6 L639.5,397.7 L641.5,397.8 L643.5,397.8 L645.5,397.9 L647.5,397.9 L649.5,398.0 L651.5,398.0 L653.5,398.0 L655.5,397.9 L657.5,397.9 L659.5,397.8 L661.5,397.7 L663.5,397.6 L665.5,397.4 L667.5,397.2 L669.5,397.0 L671.5,396.8 L673.5,396.5 L675.5,396.3 L677.5,395.9 L679.5,395.6 L681.5,395.2 L683.5,394.8 L685.5,394.4 L687.5,393.9 L689.5,393.4 L691.5,392.8 L693.5,392.2 L695.5,391.6 L697.5,391.0 L699.5,390.3 L701.5,389.7 L703.5,388.9 L705.5,388.2 L707.5,387.4 L709.5,386.6 L711.5,385.8 L713.5,385.0 L715.5,384.1 L717.5,383.3 L719.5,382.4 L721.5,381.5 L723.5,380.5 L725.5,379.6 L727.5,378.6 L729.5,377.6 L731.5,376.6 L733.5,375.6 L735.5,374.5 L737.5,373.4 L739.5,372.4 L741.5,371.2 L743.5,370.1 L745.5,369.0 L747.5,367.8 L749.5,366.7 L751.5,365.5 L753.5,364.3 L755.5,363.1 L757.5,361.8 L759.5,360.6 L761.5,359.3 L763.5,358.0 L765.5,356.7 L767.5,355.4 L769.5,354.1 L771.5,352.8 L773.5,351.4 L775.5,350.1 L777.5,348.7 L779.5,347.3 L781.5,345.9 L783.5,344.5 L785.5,343.1 L787.5,341.7 L789.5,340.3 L791.5,338.9 L793.5,337.5 L795.5,336.1 L797.5,334.7 L799.5,333.4 L801.5,332.0 L803.5,330.6 L805.5,329.2 L807.5,327.8 L809.5,326.5 L811.5,325.1 L813.5,323.7 L815.5,322.3 L817.5,320.9 L819.5,319.5 L821.5,318.0 L823.5,316.6 L825.5,315.2 L827.5,313.7 L829.5,312.3 L831.5,310.9 L833.5,309.4 L835.5,308.1 L837.5,306.7 L839.5,305.4 L841.5,304.1 L843.5,302.8 L845.5,301.6 L847.5,300.5 L849.5,299.4 L851.5,298.4 L853.5,297.5 L855.5,296.6 L857.5,295.8 L859.5,295.1 L860.5,294.8" stroke="#800080"/>
<path d="M121.5,115.0 L123.5,115.8 L125.5,116.5 L127.5,117.3 L129.5,118.1 L131.5,118.9 L133.5,119.6 L135.5,120.4 L137.5,121.2 L139.5,122.0 L141.5,122.8 L143.5,123.6 L145.5,124.4 L147.5,125.2 L149.5,126.0 L151.5,126.8 L153.5,127.7 L155.5,128.5 L157.5,129.3 L159.5,130.1 L161.5,131.0 L163.5,131.8 L165.5,132.6 L167.5,133.4 L169.5,134.3 L171.5,135.1 L173.5,136.0 L175.5,136.8 L177.5,137.7 L179.5,138.5 L181.5,139.4 L183.5,140.2 L185.5,141.1 L187.5,141.9 L189.5,142.8 L191.5,143.7 L193.5,144.5 L195.5,145.4 L197.5,146.3 L199.5,147.1 L201.5,148.0 L203.5,148.9 L205.5,149.8 L207.5,150.6 L209.5,151.5 L211.5,152.4 L213.5,153.3 L215.5,154.2 L217.5,155.1 L219.5,156.0 L221.5,156.8 L223.5,157.7 L225.5,158.6 L227.5,159.5 L229.5,160.4 L231.5,161.3 L233.5,162.2 L235.5,163.1 L237.5,164.0 L239.5,164.9 L241.5,165.8 L243.5,166.7 L245.5,167.6 L247.5,168.5 L249.5,169.4 L251.5,170.3 L253.5,171.2 L255.5,172.1 L257.5,173.0 L259.5,173.9 L261.5,174.8 L263.5,175.7 L265.5,176.6 L267.5,177.5 L269.5,178.4 L271.5,179.3 L273.5,180.2 L275.5,181.1 L277.5,182.0 L279.5,182.9 L281.5,183.8 L283.5,184.7 L285.5,185.6 L287.5,186.5 L289.5,187.4 L291.5,188.3 L293.5,189.2 L295.5,190.0 L297.5,190.9 L299.5,191.8 L301.5,192.7 L303.5,193.6 L305.5,194.5 L307.5,195.3 L309.5,196.2 L311.5,197.1 L313.5,198.0 L315.5,198.8 L317.5,199.7 L319.5,200.6 L321.5,201.4 L323.5,202.3 L325.5,203.1 L327.5,204.0 L329.5,204.9 L331.5,205.7 L333.5,206.6 L335.5,207.4 L337.5,208.3 L339.5,209.1 L341.5,209.9 L343.5,210.8 L345.5,211.6 L347.5,212.5 L349.5,213.3 L351.5,214.1 L353.5,215.0 L355.5,215.8 L357.5,216.6 L359.5,217.4 L361.5,218.3 L363.5,219.1 L365.5,219.9 L367.5,220.7 L369.5,221.5 L371.5,222.3 L373.5,223.1 L375.5,224.0 L377.5,224.8 L379.5,225.6 L381.5,226.4 L383.5,227.2 L385.5,228.0 L387.5,228.8 L389.5,229.6 L391.5,230.4 L393.5,231.1 L395.5,231.9 L397.5,232.7 L399.5,233.5 L401.5,234.3 L403.5,235.1 L405.5,235.9 L407.5,236.7 L409.5,237.4 L411.5,238.2 L413.5,239.0 L415.5,239.8 L417.5,240.6 L419.5,241.3 L421.5,242.1 L423.5,242.9 L425.5,243.7 L427.5,244.4 L429.5,245.2 L431.5,246.0 L433.5,246.7 L435.5,247.5 L437.5,248.3 L439.5,249.0 L441.5,249.8 L443.5,250.6 L445.5,251.3 L447.5,252.1 L449.5,252.9 L451.5,253.6 L453.5,254.4 L455.5,255.2 L457.5,255.9 L459.5,256.7 L461.5,257.5 L463.5,258.2 L465.5,259.0 L467.5,259.8 L469.5,260.5 L471.5,261.3 L473.5,262.0 L475.5,262.8 L477.5,263.6 L479.5,264.3 L481.5,265.1 L483.5,265.9 L485.5,266.6 L487.5,267.4 L489.5,268.1 L491.5,268.9 L493.5,269.7 L495.5,270.4 L497.5,271.2 L499.5,271.9 L501.5,272.7 L503.5,273.5 L505.5,274.2 L507.5,275.0 L509.5,275.7 L511.5,276.5 L513.5,277.2 L515.5,278.0 L517.5,278.7 L519.5,279.5 L521.5,280.2 L523.5,281.0 L525.5,281.7 L527.5,282.5 L529.5,283.2 L531.5,284.0 L533.5,284.7 L535.5,285.4 L537.5,286.2 L539.5,286.9 L541.5,287.6 L543.5,288.3 L545.5,289.1 L547.5,289.8 L549.5,290.5 L551.5,291.2 L553.5,291.9 L555.5,292.6 L557.5,293.4 L559.5,294.1 L561.5,294.8 L563.5,295.5 L565.5,296.2 L567.5,296.8 L569.5,297.5 L571.5,298.2 L573.5,298.9 L575.5,299.6 L577.5,300.3 L579.5,300.9 L581.5,301.6 L583.5,302.2 L585.5,302.9 L587.5,303.6 L589.5,304.2 L591.5,304.9 L593.5,305.5 L595.5,306.1 L597.5,306.8 L599.5,307.4 L601.5,308.0 L603.5,308.6 L605.5,309.2 L607.5,309.8 L609.5,310.4 L611.5,311.0 L613.5,311.6 L615.5,312.2 L617.5,312.7 L619.5,313.3 L621.5,313.8 L623.5,314.4 L625.5,314.9 L627.5,315.5 L629.5,316.0 L631.5,316.5 L633.5,317.0 L635.5,317.5 L637.5,318.0 L639.5,318.5 L641.5,319.0 L643.5,319.4 L645.5,319.9 L647.5,320.4 L649.5,320.8 L651.5,321.2 L653.5,321.6 L655.5,322.1 L657.5,322.5 L659.5,322.9 L661.5,323.2 L663.5,323.6 L665.5,324.0 L667.5,324.3 L669.5,324.7 L671.5,325.0 L673.5,325.3 L675.5,325.6 L677.5,325.9 L679.5,326.2 L681.5,326.5 L683.5,326.8 L685.5,327.0 L687.5,327.3 L689.5,327.5 L691.5,327.7 L693.5,328.0 L695.5,328.2 L697.5,328.4 L699.5,328.5 L701.5,328.7 L703.5,328.9 L705.5,329.1 L707.5,329.2 L709.5,329.3 L711.5,329.5 L713.5,329.6 L715.5,329.7 L717.5,329.8 L719.5,329.9 L721.5,330.0 L723.5,330.1 L725.5,330.1 L727.5,330.2 L729.5,330.2 L731.5,330.3 L733.5,330.3 L735.5,330.3 L737.5,330.3 L739.5,330.3 L741.5,330.3 L743.5,330.3 L745.5,330.3 L747.5,330.3 L749.5,330.2 L751.5,330.2 L753.5,330.1 L755.5,330.1 L757.5,330.0 L759.5,330.0 L761.5,329.9 L763.5,329.8 L765.5,329.7 L767.5,329.6 L769.5,329.5 L771.5,329.5 L773.5,329.4 L775.5,329.3 L777.5,329.1 L779.5,329.0 L781.5,328.9 L783.5,328.8 L785.5,328.7 L787.5,328.6 L789.5,328.4 L791.5,328.3 L793.5,328.2 L795.5,328.1 L797.5,327.9 L799.5,327.8 L801.5,327.7 L803.5,327.6 L805.5,327.4 L807.5,327.3 L809.5,327.2 L811.5,327.1 L813.5,326.9 L815.5,326.8 L817.5,326.7 L819.5,326.6 L821.5,326.4 L823.5,326.3 L825.5,326.2 L827.5,326.1 L829.5,326.0 L831.5,325.9 L833.5,325.8 L835.5,325.7 L837.5,325.6 L839.5,325.5 L841.5,325.4 L843.5,325.3 L845.5,325.2 L847.5,325.2 L849.5,325.1 L851.5,325.0 L853.5,325.0 L855.5,324.9 L857.5,324.9 L859.5,324.9 L860.5,324.8" stroke="#FF6600"/>
<path d="M121.5,115.0 L123.5,115.5 L125.5,115.9 L127.5,116.4 L129.5,116.9 L131.5,117.3 L133.5,117.8 L135.5,118.3 L137.5,118.7 L139.5,119.2 L141.5,119.7 L143.5,120.1 L145.5,120.6 L147.5,121.1 L149.5,121.5 L151.5,122.0 L153.5,122.5 L155.5,123.0 L157.5,123.4 L159.5,123.9 L161.5,124.4 L163.5,124.9 L165.5,125.3 L167.5,125.8 L169.5,126.3 L171.5,126.8 L173.5,127.3 L175.5,127.7 L177.5,128.2 L179.5,128.7 L181.5,129.2 L183.5,129.7 L185.5,130.1 L187.5,130.6 L189.5,131.1 L191.5,131.6 L193.5,132.1 L195.5,132.6 L197.5,133.0 L199.5,133.5 L201.5,134.0 L203.5,134.5 L205.5,135.0 L207.5,135.5 L209.5,136.0 L211.5,136.4 L213.5,136.9 L215.5,137.4 L217.5,137.9 L219.5,138.4 L221.5,138.9 L223.5,139.4 L225.5,139.9 L227.5,140.4 L229.5,140.8 L231.5,141.3 L233.5,141.8 L235.5,142.3 L237.5,142.8 L239.5,143.3 L241.5,143.8 L243.5,144.3 L245.5,144.8 L247.5,145.2 L249.5,145.7 L251.5,146.2 L253.5,146.7 L255.5,147.2 L257.5,147.7 L259.5,148.2 L261.5,148.7 L263.5,149.2 L265.5,149.7 L267.5,150.2 L269.5,150.6 L271.5,151.1 L273.5,151.6 L275.5,152.1 L277.5,152.6 L279.5,153.1 L281.5,153.6 L283.5,154.1 L285.5,154.6 L287.5,155.0 L289.5,155.5 L291.5,156.0 L293.5,156.5 L295.5,157.0 L297.5,157.5 L299.5,158.0 L301.5,158.5 L303.5,158.9 L305.5,159.4 L307.5,159.9 L309.5,160.4 L311.5,160.9 L313.5,161.4 L315.5,161.9 L317.5,162.3 L319.5,162.8 L321.5,163.3 L323.5,163.8 L325.5,164.3 L327.5,164.8 L329.5,165.2 L331.5,165.7 L333.5,166.2 L335.5,166.7 L337.5,167.2 L339.5,167.6 L341.5,168.1 L343.5,168.6 L345.5,169.1 L347.5,169.6 L349.5,170.0 L351.5,170.5 L353.5,171.0 L355.5,171.5 L357.5,171.9 L359.5,172.4 L361.5,172.9 L363.5,173.4 L365.5,173.8 L367.5,174.3 L369.5,174.8 L371.5,175.3 L373.5,175.7 L375.5,176.2 L377.5,176.7 L379.5,177.1 L381.5,177.6 L383.5,178.1 L385.5,178.6 L387.5,179.0 L389.5,179.5 L391.5,180.0 L393.5,180.4 L395.5,180.9 L397.5,181.4 L399.5,181.8 L401.5,182.3 L403.5,182.8 L405.5,183.2 L407.5,183.7 L409.5,184.2 L411.5,184.6 L413.5,185.1 L415.5,185.6 L417.5,186.0 L419.5,186.5 L421.5,187.0 L423.5,187.4 L425.5,187.9 L427.5,188.4 L429.5,188.8 L431.5,189.3 L433.5,189.8 L435.5,190.2 L437.5,190.7 L439.5,191.2 L441.5,191.6 L443.5,192.1 L445.5,192.5 L447.5,193.0 L449.5,193.5 L451.5,193.9 L453.5,194.4 L455.5,194.8 L457.5,195.3 L459.5,195.8 L461.5,196.2 L463.5,196.7 L465.5,197.1 L467.5,197.6 L469.5,198.1 L471.5,198.5 L473.5,199.0 L475.5,199.4 L477.5,199.9 L479.5,200.4 L481.5,200.8 L483.5,201.3 L485.5,201.7 L487.5,202.2 L489.5,202.7 L491.5,203.1 L493.5,203.6 L495.5,204.0 L497.5,204.5 L499.5,204.9 L501.5,205.4 L503.5,205.9 L505.5,206.3 L507.5,206.8 L509.5,207.2 L511.5,207.7 L513.5,208.1 L515.5,208.6 L517.5,209.0 L519.5,209.5 L521.5,210.0 L523.5,210.4 L525.5,210.9 L527.5,211.3 L529.5,211.8 L531.5,212.2 L533.5,212.7 L535.5,213.1 L537.5,213.6 L539.5,214.1 L541.5,214.5 L543.5,215.0 L545.5,215.4 L547.5,215.9 L549.5,216.3 L551.5,216.8 L553.5,217.2 L555.5,217.7 L557.5,218.1 L559.5,218.6 L561.5,219.0 L563.5,219.5 L565.5,219.9 L567.5,220.4 L569.5,220.8 L571.5,221.3 L573.5,221.7 L575.5,222.2 L577.5,222.6 L579.5,223.1 L581.5,223.5 L583.5,223.9 L585.5,224.4 L587.5,224.8 L589.5,225.3 L591.5,225.7 L593.5,226.1 L595.5,226.6 L597.5,227.0 L599.5,227.4 L601.5,227.9 L603.5,228.3 L605.5,228.7 L607.5,229.2 L609.5,229.6 L611.5,230.0 L613.5,230.4 L615.5,230.9 L617.5,231.3 L619.5,231.7 L621.5,232.1 L623.5,232.5 L625.5,232.9 L627.5,233.4 L629.5,233.8 L631.5,234.2 L633.5,234.6 L635.5,235.0 L637.5,235.4 L639.5,235.8 L641.5,236.2 L643.5,236.6 L645.5,237.0 L647.5,237.4 L649.5,237.8 L651.5,238.2 L653.5,238.6 L655.5,239.0 L657.5,239.3 L659.5,239.7 L661.5,240.1 L663.5,240.5 L665.5,240.9 L667.5,241.3 L669.5,241.6 L671.5,242.0 L673.5,242.4 L675.5,242.8 L677.5,243.2 L679.5,243.5 L681.5,243.9 L683.5,244.3 L685.5,244.6 L687.5,245.0 L689.5,245.4 L691.5,245.7 L693.5,246.1 L695.5,246.5 L697.5,246.8 L699.5,247.2 L701.5,247.5 L703.5,247.9 L705.5,248.3 L707.5,248.6 L709.5,249.0 L711.5,249.3 L713.5,249.7 L715.5,250.0 L717.5,250.4 L719.5,250.7 L721.5,251.1 L723.5,251.4 L725.5,251.8 L727.5,252.1 L729.5,252.5 L731.5,252.8 L733.5,253.2 L735.5,253.5 L737.5,253.9 L739.5,254.2 L741.5,254.5 L743.5,254.9 L745.5,255.2 L747.5,255.5 L749.5,255.9 L751.5,256.2 L753.5,256.6 L755.5,256.9 L757.5,257.2 L759.5,257.6 L761.5,257.9 L763.5,258.2 L765.5,258.6 L767.5,258.9 L769.5,259.2 L771.5,259.6 L773.5,259.9 L775.5,260.2 L777.5,260.5 L779.5,260.9 L781.5,261.2 L783.5,261.5 L785.5,261.8 L787.5,262.2 L789.5,262.5 L791.5,262.8 L793.5,263.2 L795.5,263.5 L797.5,263.8 L799.5,264.1 L801.5,264.4 L803.5,264.8 L805.5,265.1 L807.5,265.4 L809.5,265.7 L811.5,266.1 L813.5,266.4 L815.5,266.7 L817.5,267.0 L819.5,267.3 L821.5,267.7 L823.5,268.0 L825.5,268.3 L827.5,268.6 L829.5,269.0 L831.5,269.3 L833.5,269.6 L835.5,269.9 L837.5,270.2 L839.5,270.6 L841.5,270.9 L843.5,271.2 L845.5,271.5 L847.5,271.8 L849.5,272.2 L851.5,272.5 L853.5,272.8 L855.5,273.1 L857.5,273.4 L859.5,273.8 L860.5,273.9" stroke="#008080"/>
<path d="M121.5,115.0 L123.5,115.3 L125.5,115.5 L127.5,115.8 L129.5,116.0 L131.5,116.3 L133.5,116.6 L135.5,116.8 L137.5,117.1 L139.5,117.4 L141.5,117.7 L143.5,117.9 L145.5,118.2 L147.5,118.5 L149.5,118.8 L151.5,119.0 L153.5,119.3 L155.5,119.6 L157.5,119.9 L159.5,120.2 L161.5,120.5 L163.5,120.7 L165.5,121.0 L167.5,121.3 L169.5,121.6 L171.5,121.9 L173.5,122.2 L175.5,122.5 L177.5,122.8 L179.5,123.1 L181.5,123.4 L183.5,123.7 L185.5,123.9 L187.5,124.2 L189.5,124.5 L191.5,124.8 L193.5,125.1 L195.5,125.4 L197.5,125.7 L199.5,126.0 L201.5,126.3 L203.5,126.6 L205.5,126.9 L207.5,127.2 L209.5,127.5 L211.5,127.8 L213.5,128.1 L215.5,128.4 L217.5,128.7 L219.5,129.0 L221.5,129.3 L223.5,129.6 L225.5,129.9 L227.5,130.2 L229.5,130.5 L231.5,130.8 L233.5,131.1 L235.5,131.4 L237.5,131.7 L239.5,131.9 L241.5,132.2 L243.5,132.5 L245.5,132.8 L247.5,133.1 L249.5,133.4 L251.5,133.7 L253.5,134.0 L255.5,134.3 L257.5,134.6 L259.5,134.8 L261.5,135.1 L263.5,135.4 L265.5,135.7 L267.5,136.0 L269.5,136.3 L271.5,136.6 L273.5,136.8 L275.5,137.1 L277.5,137.4 L279.5,137.7 L281.5,138.0 L283.5,138.3 L285.5,138.6 L287.5,138.8 L289.5,139.1 L291.5,139.4 L293.5,139.7 L295.5,140.0 L297.5,140.3 L299.5,140.6 L301.5,140.8 L303.5,141.1 L305.5,141.4 L307.5,141.7 L309.5,142.0 L311.5,142.3 L313.5,142.6 L315.5,142.9 L317.5,143.2 L319.5,143.5 L321.5,143.8 L323.5,144.1 L325.5,144.4 L327.5,144.7 L329.5,145.0 L331.5,145.3 L333.5,145.6 L335.5,145.9 L337.5,146.2 L339.5,146.5 L341.5,146.8 L343.5,147.1 L345.5,147.4 L347.5,147.6 L349.5,147.9 L351.5,148.2 L353.5,148.5 L355.5,148.8 L357.5,149.1 L359.5,149.3 L361.5,149.6 L363.5,149.9 L365.5,150.1 L367.5,150.4 L369.5,150.6 L371.5,150.9 L373.5,151.1 L375.5,151.4 L377.5,151.6 L379.5,151.8 L381.5,152.0 L383.5,152.2 L385.5,152.4 L387.5,152.6 L389.5,152.8 L391.5,153.0 L393.5,153.1 L395.5,153.3 L397.5,153.5 L399.5,153.6 L401.5,153.8 L403.5,153.9 L405.5,154.0 L407.5,154.2 L409.5,154.3 L411.5,154.4 L413.5,154.5 L415.5,154.6 L417.5,154.8 L419.5,154.8 L421.5,154.9 L423.5,155.0 L425.5,155.1 L427.5,155.2 L429.5,155.3 L431.5,155.3 L433.5,155.4 L435.5,155.4 L437.5,155.5 L439.5,155.5 L441.5,155.6 L443.5,155.6 L445.5,155.7 L447.5,155.7 L449.5,155.7 L451.5,155.7 L453.5,155.7 L455.5,155.8 L457.5,155.8 L459.5,155.8 L461.5,155.8 L463.5,155.8 L465.5,155.7 L467.5,155.7 L469.5,155.7 L471.5,155.7 L473.5,155.7 L475.5,155.6 L477.5,155.6 L479.5,155.6 L481.5,155.5 L483.5,155.5 L485.5,155.4 L487.5,155.4 L489.5,155.3 L491.5,155.3 L493.5,155.2 L495.5,155.1 L497.5,155.1 L499.5,155.0 L501.5,154.9 L503.5,154.9 L505.5,154.8 L507.5,154.7 L509.5,154.6 L511.5,154.5 L513.5,154.4 L515.5,154.4 L517.5,154.3 L519.5,154.2 L521.5,154.1 L523.5,154.0 L525.5,153.9 L527.5,153.8 L529.5,153.7 L531.5,153.6 L533.5,153.4 L535.5,153.3 L537.5,153.2 L539.5,153.1 L541.5,153.0 L543.5,152.9 L545.5,152.7 L547.5,152.6 L549.5,152.5 L551.5,152.4 L553.5,152.2 L555.5,152.1 L557.5,152.0 L559.5,151.9 L561.5,151.7 L563.5,151.6 L565.5,151.5 L567.5,151.3 L569.5,151.2 L571.5,151.1 L573.5,150.9 L575.5,150.8 L577.5,150.7 L579.5,150.5 L581.5,150.4 L583.5,150.3 L585.5,150.1 L587.5,150.0 L589.5,149.9 L591.5,149.8 L593.5,149.6 L595.5,149.5 L597.5,149.4 L599.5,149.3 L601.5,149.2 L603.5,149.1 L605.5,149.0 L607.5,148.9 L609.5,148.8 L611.5,148.7 L613.5,148.6 L615.5,148.5 L617.5,148.5 L619.5,148.4 L621.5,148.3 L623.5,148.3 L625.5,148.2 L627.5,148.2 L629.5,148.1 L631.5,148.1 L633.5,148.1 L635.5,148.0 L637.5,148.0 L639.5,148.0 L641.5,148.0 L643.5,148.0 L645.5,148.1 L647.5,148.1 L649.5,148.1 L651.5,148.2 L653.5,148.2 L655.5,148.3 L657.5,148.3 L659.5,148.4 L661.5,148.5 L663.5,148.6 L665.5,148.7 L667.5,148.8 L669.5,149.0 L671.5,149.1 L673.5,149.3 L675.5,149.4 L677.5,149.6 L679.5,149.8 L681.5,150.0 L683.5,150.2 L685.5,150.4 L687.5,150.7 L689.5,150.9 L691.5,151.2 L693.5,151.4 L695.5,151.7 L697.5,152.0 L699.5,152.3 L701.5,152.6 L703.5,152.9 L705.5,153.2 L707.5,153.5 L709.5,153.8 L711.5,154.2 L713.5,154.5 L715.5,154.9 L717.5,155.2 L719.5,155.6 L721.5,156.0 L723.5,156.4 L725.5,156.7 L727.5,157.1 L729.5,157.5 L731.5,157.9 L733.5,158.4 L735.5,158.8 L737.5,159.2 L739.5,159.6 L741.5,160.1 L743.5,160.5 L745.5,160.9 L747.5,161.4 L749.5,161.8 L751.5,162.3 L753.5,162.7 L755.5,163.2 L757.5,163.7 L759.5,164.1 L761.5,164.6 L763.5,165.1 L765.5,165.5 L767.5,166.0 L769.5,166.5 L771.5,167.0 L773.5,167.5 L775.5,167.9 L777.5,168.4 L779.5,168.9 L781.5,169.4 L783.5,169.9 L785.5,170.4 L787.5,170.9 L789.5,171.4 L791.5,171.9 L793.5,172.4 L795.5,172.9 L797.5,173.4 L799.5,173.9 L801.5,174.4 L803.5,174.8 L805.5,175.3 L807.5,175.8 L809.5,176.3 L811.5,176.8 L813.5,177.3 L815.5,177.8 L817.5,178.3 L819.5,178.8 L821.5,179.2 L823.5,179.7 L825.5,180.2 L827.5,180.7 L829.5,181.1 L831.5,181.6 L833.5,182.1 L835.5,182.5 L837.5,183.0 L839.5,183.5 L841.5,183.9 L843.5,184.4 L845.5,184.8 L847.5,185.2 L849.5,185.7 L851.5,186.1 L853.5,186.5 L855.5,187.0 L857.5,187.4 L859.5,187.8 L860.5,188.0" stroke="#0000FF"/>
<path d="M121.5,115.0 L123.5,115.3 L125.5,115.6 L127.5,116.0 L129.5,116.3 L131.5,116.6 L133.5,116.9 L135.5,117.3 L137.5,117.6 L139.5,117.9 L141.5,118.3 L143.5,118.6 L145.5,118.9 L147.5,119.3 L149.5,119.6 L151.5,119.9 L153.5,120.3 L155.5,120.6 L157.5,120.9 L159.5,121.3 L161.5,121.6 L163.5,122.0 L165.5,122.3 L167.5,122.6 L169.5,123.0 L171.5,123.3 L173.5,123.7 L175.5,124.0 L177.5,124.3 L179.5,124.7 L181.5,125.0 L183.5,125.4 L185.5,125.7 L187.5,126.1 L189.5,126.4 L191.5,126.8 L193.5,127.1 L195.5,127.5 L197.5,127.8 L199.5,128.2 L201.5,128.5 L203.5,128.8 L205.5,129.2 L207.5,129.5 L209.5,129.9 L211.5,130.2 L213.5,130.6 L215.5,130.9 L217.5,131.3 L219.5,131.6 L221.5,132.0 L223.5,132.3 L225.5,132.7 L227.5,133.0 L229.5,133.4 L231.5,133.7 L233.5,134.1 L235.5,134.4 L237.5,134.8 L239.5,135.1 L241.5,135.5 L243.5,135.8 L245.5,136.2 L247.5,136.5 L249.5,136.9 L251.5,137.2 L253.5,137.6 L255.5,137.9 L257.5,138.3 L259.5,138.6 L261.5,139.0 L263.5,139.3 L265.5,139.6 L267.5,140.0 L269.5,140.3 L271.5,140.7 L273.5,141.0 L275.5,141.4 L277.5,141.7 L279.5,142.0 L281.5,142.4 L283.5,142.7 L285.5,143.1 L287.5,143.4 L289.5,143.7 L291.5,144.1 L293.5,144.4 L295.5,144.7 L297.5,145.1 L299.5,145.4 L301.5,145.7 L303.5,146.1 L305.5,146.4 L307.5,146.7 L309.5,147.1 L311.5,147.4 L313.5,147.7 L315.5,148.0 L317.5,148.4 L319.5,148.7 L321.5,149.0 L323.5,149.3 L325.5,149.7 L327.5,150.0 L329.5,150.3 L331.5,150.6 L333.5,150.9 L335.5,151.2 L337.5,151.6 L339.5,151.9 L341.5,152.2 L343.5,152.5 L345.5,152.8 L347.5,153.1 L349.5,153.4 L351.5,153.7 L353.5,154.0 L355.5,154.3 L357.5,154.6 L359.5,154.9 L361.5,155.2 L363.5,155.5 L365.5,155.8 L367.5,156.1 L369.5,156.4 L371.5,156.7 L373.5,157.0 L375.5,157.3 L377.5,157.5 L379.5,157.8 L381.5,158.1 L383.5,158.4 L385.5,158.7 L387.5,158.9 L389.5,159.2 L391.5,159.5 L393.5,159.8 L395.5,160.0 L397.5,160.3 L399.5,160.6 L401.5,160.8 L403.5,161.1 L405.5,161.3 L407.5,161.6 L409.5,161.8 L411.5,162.1 L413.5,162.3 L415.5,162.6 L417.5,162.8 L419.5,163.1 L421.5,163.3 L423.5,163.6 L425.5,163.8 L427.5,164.0 L429.5,164.3 L431.5,164.5 L433.5,164.7 L435.5,165.0 L437.5,165.2 L439.5,165.4 L441.5,165.6 L443.5,165.8 L445.5,166.0 L447.5,166.3 L449.5,166.5 L451.5,166.7 L453.5,166.9 L455.5,167.1 L457.5,167.3 L459.5,167.5 L461.5,167.7 L463.5,167.9 L465.5,168.0 L467.5,168.2 L469.5,168.4 L471.5,168.6 L473.5,168.8 L475.5,168.9 L477.5,169.1 L479.5,169.3 L481.5,169.5 L483.5,169.6 L485.5,169.8 L487.5,169.9 L489.5,170.1 L491.5,170.2 L493.5,170.4 L495.5,170.5 L497.5,170.7 L499.5,170.8 L501.5,171.0 L503.5,171.1 L505.5,171.2 L507.5,171.4 L509.5,171.5 L511.5,171.6 L513.5,171.7 L515.5,171.8 L517.5,172.0 L519.5,172.1 L521.5,172.2 L523.5,172.3 L525.5,172.4 L527.5,172.5 L529.5,172.6 L531.5,172.7 L533.5,172.8 L535.5,172.9 L537.5,173.0 L539.5,173.1 L541.5,173.2 L543.5,173.3 L545.5,173.4 L547.5,173.5 L549.5,173.6 L551.5,173.6 L553.5,173.7 L555.5,173.8 L557.5,173.9 L559.5,174.0 L561.5,174.0 L563.5,174.1 L565.5,174.2 L567.5,174.3 L569.5,174.3 L571.5,174.4 L573.5,174.5 L575.5,174.5 L577.5,174.6 L579.5,174.7 L581.5,174.7 L583.5,174.8 L585.5,174.9 L587.5,174.9 L589.5,175.0 L591.5,175.0 L593.5,175.1 L595.5,175.2 L597.5,175.2 L599.5,175.3 L601.5,175.3 L603.5,175.4 L605.5,175.4 L607.5,175.5 L609.5,175.5 L611.5,175.6 L613.5,175.7 L615.5,175.7 L617.5,175.8 L619.5,175.8 L621.5,175.9 L623.5,175.9 L625.5,176.0 L627.5,176.0 L629.5,176.1 L631.5,176.1 L633.5,176.2 L635.5,176.2 L637.5,176.3 L639.5,176.3 L641.5,176.4 L643.5,176.4 L645.5,176.5 L647.5,176.5 L649.5,176.6 L651.5,176.7 L653.5,176.7 L655.5,176.8 L657.5,176.8 L659.5,176.9 L661.5,176.9 L663.5,177.0 L665.5,177.0 L667.5,177.1 L669.5,177.2 L671.5,177.2 L673.5,177.3 L675.5,177.3 L677.5,177.4 L679.5,177.5 L681.5,177.5 L683.5,177.6 L685.5,177.7 L687.5,177.7 L689.5,177.8 L691.5,177.8 L693.5,177.9 L695.5,178.0 L697.5,178.0 L699.5,178.1 L701.5,178.2 L703.5,178.2 L705.5,178.3 L707.5,178.4 L709.5,178.4 L711.5,178.5 L713.5,178.6 L715.5,178.6 L717.5,178.7 L719.5,178.8 L721.5,178.8 L723.5,178.9 L725.5,179.0 L727.5,179.0 L729.5,179.1 L731.5,179.2 L733.5,179.3 L735.5,179.3 L737.5,179.4 L739.5,179.5 L741.5,179.5 L743.5,179.6 L745.5,179.7 L747.5,179.7 L749.5,179.8 L751.5,179.9 L753.5,180.0 L755.5,180.0 L757.5,180.1 L759.5,180.2 L761.5,180.3 L763.5,180.3 L765.5,180.4 L767.5,180.5 L769.5,180.6 L771.5,180.6 L773.5,180.7 L775.5,180.8 L777.5,180.9 L779.5,180.9 L781.5,181.0 L783.5,181.1 L785.5,181.2 L787.5,181.2 L789.5,181.3 L791.5,181.4 L793.5,181.5 L795.5,181.5 L797.5,181.6 L799.5,181.7 L801.5,181.8 L803.5,181.8 L805.5,181.9 L807.5,182.0 L809.5,182.1 L811.5,182.1 L813.5,182.2 L815.5,182.3 L817.5,182.4 L819.5,182.4 L821.5,182.5 L823.5,182.6 L825.5,182.7 L827.5,182.7 L829.5,182.8 L831.5,182.9 L833.5,183.0 L835.5,183.1 L837.5,183.1 L839.5,183.2 L841.5,183.3 L843.5,183.4 L845.5,183.4 L847.5,183.5 L849.5,183.6 L851.5,183.7 L853.5,183.7 L855.5,183.8 L857.5,183.9 L859.5,184.0 L860.5,184.0" stroke="#000000"/>
<path d="M121.5,115.0 L123.5,115.6 L125.5,116.3 L127.5,116.9 L129.5,117.6 L131.5,118.2 L133.5,118.9 L135.5,119.6 L137.5,120.2 L139.5,120.9 L141.5,121.5 L143.5,122.2 L145.5,122.9 L147.5,123.5 L149.5,124.2 L151.5,124.9 L153.5,125.5 L155.5,126.2 L157.5,126.9 L159.5,127.6 L161.5,128.2 L163.5,128.9 L165.5,129.6 L167.5,130.3 L169.5,130.9 L171.5,131.6 L173.5,132.3 L175.5,133.0 L177.5,133.7 L179.5,134.3 L181.5,135.0 L183.5,135.7 L185.5,136.4 L187.5,137.1 L189.5,137.8 L191.5,138.5 L193.5,139.2 L195.5,139.8 L197.5,140.5 L199.5,141.2 L201.5,141.9 L203.5,142.6 L205.5,143.3 L207.5,144.0 L209.5,144.7 L211.5,145.4 L213.5,146.1 L215.5,146.8 L217.5,147.4 L219.5,148.1 L221.5,148.8 L223.5,149.5 L225.5,150.2 L227.5,150.9 L229.5,151.6 L231.5,152.3 L233.5,153.0 L235.5,153.7 L237.5,154.4 L239.5,155.0 L241.5,155.7 L243.5,156.4 L245.5,157.1 L247.5,157.8 L249.5,158.5 L251.5,159.2 L253.5,159.9 L255.5,160.5 L257.5,161.2 L259.5,161.9 L261.5,162.6 L263.5,163.3 L265.5,163.9 L267.5,164.6 L269.5,165.3 L271.5,166.0 L273.5,166.6 L275.5,167.3 L277.5,168.0 L279.5,168.7 L281.5,169.3 L283.5,170.0 L285.5,170.7 L287.5,171.3 L289.5,172.0 L291.5,172.7 L293.5,173.3 L295.5,174.0 L297.5,174.6 L299.5,175.3 L301.5,176.0 L303.5,176.6 L305.5,177.3 L307.5,177.9 L309.5,178.5 L311.5,179.2 L313.5,179.8 L315.5,180.5 L317.5,181.1 L319.5,181.8 L321.5,182.4 L323.5,183.0 L325.5,183.6 L327.5,184.3 L329.5,184.9 L331.5,185.5 L333.5,186.1 L335.5,186.8 L337.5,187.4 L339.5,188.0 L341.5,188.6 L343.5,189.2 L345.5,189.8 L347.5,190.4 L349.5,191.0 L351.5,191.6 L353.5,192.2 L355.5,192.8 L357.5,193.4 L359.5,194.0 L361.5,194.5 L363.5,195.1 L365.5,195.7 L367.5,196.3 L369.5,196.8 L371.5,197.4 L373.5,198.0 L375.5,198.5 L377.5,199.1 L379.5,199.6 L381.5,200.2 L383.5,200.7 L385.5,201.3 L387.5,201.8 L389.5,202.3 L391.5,202.9 L393.5,203.4 L395.5,203.9 L397.5,204.4 L399.5,204.9 L401.5,205.5 L403.5,206.0 L405.5,206.5 L407.5,207.0 L409.5,207.5 L411.5,208.0 L413.5,208.4 L415.5,208.9 L417.5,209.4 L419.5,209.9 L421.5,210.3 L423.5,210.8 L425.5,211.3 L427.5,211.7 L429.5,212.2 L431.5,212.6 L433.5,213.1 L435.5,213.5 L437.5,213.9 L439.5,214.4 L441.5,214.8 L443.5,215.2 L445.5,215.6 L447.5,216.0 L449.5,216.4 L451.5,216.8 L453.5,217.2 L455.5,217.6 L457.5,218.0 L459.5,218.4 L461.5,218.8 L463.5,219.1 L465.5,219.5 L467.5,219.9 L469.5,220.2 L471.5,220.6 L473.5,220.9 L475.5,221.2 L477.5,221.6 L479.5,221.9 L481.5,222.2 L483.5,222.5 L485.5,222.8 L487.5,223.2 L489.5,223.5 L491.5,223.7 L493.5,224.0 L495.5,224.3 L497.5,224.6 L499.5,224.9 L501.5,225.2 L503.5,225.4 L505.5,225.7 L507.5,225.9 L509.5,226.2 L511.5,226.4 L513.5,226.7 L515.5,226.9 L517.5,227.2 L519.5,227.4 L521.5,227.6 L523.5,227.8 L525.5,228.1 L527.5,228.3 L529.5,228.5 L531.5,228.7 L533.5,228.9 L535.5,229.1 L537.5,229.3 L539.5,229.5 L541.5,229.7 L543.5,229.9 L545.5,230.1 L547.5,230.3 L549.5,230.4 L551.5,230.6 L553.5,230.8 L555.5,231.0 L557.5,231.1 L559.5,231.3 L561.5,231.5 L563.5,231.6 L565.5,231.8 L567.5,232.0 L569.5,232.1 L571.5,232.3 L573.5,232.4 L575.5,232.6 L577.5,232.7 L579.5,232.9 L581.5,233.0 L583.5,233.1 L585.5,233.3 L587.5,233.4 L589.5,233.5 L591.5,233.7 L593.5,233.8 L595.5,233.9 L597.5,234.1 L599.5,234.2 L601.5,234.3 L603.5,234.5 L605.5,234.6 L607.5,234.7 L609.5,234.8 L611.5,235.0 L613.5,235.1 L615.5,235.2 L617.5,235.3 L619.5,235.5 L621.5,235.6 L623.5,235.7 L625.5,235.8 L627.5,235.9 L629.5,236.1 L631.5,236.2 L633.5,236.3 L635.5,236.4 L637.5,236.5 L639.5,236.6 L641.5,236.8 L643.5,236.9 L645.5,237.0 L647.5,237.1 L649.5,237.3 L651.5,237.4 L653.5,237.5 L655.5,237.6 L657.5,237.7 L659.5,237.9 L661.5,238.0 L663.5,238.1 L665.5,238.3 L667.5,238.4 L669.5,238.5 L671.5,238.6 L673.5,238.8 L675.5,238.9 L677.5,239.1 L679.5,239.2 L681.5,239.3 L683.5,239.5 L685.5,239.6 L687.5,239.8 L689.5,239.9 L691.5,240.0 L693.5,240.2 L695.5,240.3 L697.5,240.5 L699.5,240.6 L701.5,240.8 L703.5,240.9 L705.5,241.1 L707.5,241.2 L709.5,241.4 L711.5,241.6 L713.5,241.7 L715.5,241.9 L717.5,242.0 L719.5,242.2 L721.5,242.3 L723.5,242.5 L725.5,242.7 L727.5,242.8 L729.5,243.0 L731.5,243.1 L733.5,243.3 L735.5,243.5 L737.5,243.6 L739.5,243.8 L741.5,243.9 L743.5,244.1 L745.5,244.3 L747.5,244.4 L749.5,244.6 L751.5,244.7 L753.5,244.9 L755.5,245.1 L757.5,245.2 L759.5,245.4 L761.5,245.5 L763.5,245.7 L765.5,245.8 L767.5,246.0 L769.5,246.2 L771.5,246.3 L773.5,246.5 L775.5,246.6 L777.5,246.8 L779.5,246.9 L781.5,247.1 L783.5,247.2 L785.5,247.4 L787.5,247.5 L789.5,247.7 L791.5,247.8 L793.5,248.0 L795.5,248.1 L797.5,248.2 L799.5,248.4 L801.5,248.5 L803.5,248.7 L805.5,248.8 L807.5,248.9 L809.5,249.1 L811.5,249.2 L813.5,249.3 L815.5,249.5 L817.5,249.6 L819.5,249.7 L821.5,249.8 L823.5,250.0 L825.5,250.1 L827.5,250.2 L829.5,250.3 L831.5,250.4 L833.5,250.5 L835.5,250.7 L837.5,250.8 L839.5,250.9 L841.5,251.0 L843.5,251.1 L845.5,251.2 L847.5,251.3 L849.5,251.4 L851.5,251.5 L853.5,251.5 L855.5,251.6 L857.5,251.7 L859.5,251.8 L860.5,251.8" stroke="#000000" stroke-dasharray="14 7.5" stroke-dashoffset="13.14"/>
<path d="M121.5,115.0 L123.5,115.9 L125.5,116.9 L127.5,117.9 L129.5,118.8 L131.5,119.8 L133.5,120.8 L135.5,121.7 L137.5,122.7 L139.5,123.7 L141.5,124.7 L143.5,125.7 L145.5,126.6 L147.5,127.6 L149.5,128.6 L151.5,129.6 L153.5,130.6 L155.5,131.6 L157.5,132.6 L159.5,133.6 L161.5,134.6 L163.5,135.7 L165.5,136.7 L167.5,137.7 L169.5,138.7 L171.5,139.7 L173.5,140.7 L175.5,141.8 L177.5,142.8 L179.5,143.8 L181.5,144.8 L183.5,145.9 L185.5,146.9 L187.5,147.9 L189.5,149.0 L191.5,150.0 L193.5,151.0 L195.5,152.1 L197.5,153.1 L199.5,154.2 L201.5,155.2 L203.5,156.2 L205.5,157.3 L207.5,158.3 L209.5,159.4 L211.5,160.4 L213.5,161.5 L215.5,162.5 L217.5,163.5 L219.5,164.6 L221.5,165.6 L223.5,166.7 L225.5,167.7 L227.5,168.8 L229.5,169.8 L231.5,170.9 L233.5,171.9 L235.5,173.0 L237.5,174.0 L239.5,175.0 L241.5,176.1 L243.5,177.1 L245.5,178.2 L247.5,179.2 L249.5,180.3 L251.5,181.3 L253.5,182.3 L255.5,183.4 L257.5,184.4 L259.5,185.4 L261.5,186.5 L263.5,187.5 L265.5,188.5 L267.5,189.6 L269.5,190.6 L271.5,191.6 L273.5,192.7 L275.5,193.7 L277.5,194.7 L279.5,195.7 L281.5,196.7 L283.5,197.8 L285.5,198.8 L287.5,199.8 L289.5,200.8 L291.5,201.8 L293.5,202.8 L295.5,203.8 L297.5,204.8 L299.5,205.8 L301.5,206.8 L303.5,207.8 L305.5,208.8 L307.5,209.8 L309.5,210.7 L311.5,211.7 L313.5,212.7 L315.5,213.7 L317.5,214.6 L319.5,215.6 L321.5,216.6 L323.5,217.5 L325.5,218.5 L327.5,219.5 L329.5,220.4 L331.5,221.4 L333.5,222.3 L335.5,223.2 L337.5,224.2 L339.5,225.1 L341.5,226.0 L343.5,226.9 L345.5,227.9 L347.5,228.8 L349.5,229.7 L351.5,230.6 L353.5,231.5 L355.5,232.4 L357.5,233.3 L359.5,234.2 L361.5,235.1 L363.5,235.9 L365.5,236.8 L367.5,237.7 L369.5,238.5 L371.5,239.4 L373.5,240.2 L375.5,241.1 L377.5,241.9 L379.5,242.8 L381.5,243.6 L383.5,244.4 L385.5,245.3 L387.5,246.1 L389.5,246.9 L391.5,247.7 L393.5,248.5 L395.5,249.3 L397.5,250.0 L399.5,250.8 L401.5,251.6 L403.5,252.4 L405.5,253.1 L407.5,253.9 L409.5,254.6 L411.5,255.4 L413.5,256.1 L415.5,256.8 L417.5,257.5 L419.5,258.3 L421.5,259.0 L423.5,259.7 L425.5,260.4 L427.5,261.0 L429.5,261.7 L431.5,262.4 L433.5,263.1 L435.5,263.7 L437.5,264.4 L439.5,265.0 L441.5,265.6 L443.5,266.3 L445.5,266.9 L447.5,267.5 L449.5,268.1 L451.5,268.7 L453.5,269.3 L455.5,269.9 L457.5,270.4 L459.5,271.0 L461.5,271.5 L463.5,272.1 L465.5,272.6 L467.5,273.1 L469.5,273.7 L471.5,274.2 L473.5,274.7 L475.5,275.2 L477.5,275.7 L479.5,276.1 L481.5,276.6 L483.5,277.1 L485.5,277.5 L487.5,277.9 L489.5,278.4 L491.5,278.8 L493.5,279.2 L495.5,279.6 L497.5,280.0 L499.5,280.4 L501.5,280.8 L503.5,281.2 L505.5,281.5 L507.5,281.9 L509.5,282.2 L511.5,282.6 L513.5,282.9 L515.5,283.2 L517.5,283.6 L519.5,283.9 L521.5,284.2 L523.5,284.5 L525.5,284.8 L527.5,285.1 L529.5,285.4 L531.5,285.7 L533.5,285.9 L535.5,286.2 L537.5,286.5 L539.5,286.7 L541.5,287.0 L543.5,287.3 L545.5,287.5 L547.5,287.7 L549.5,288.0 L551.5,288.2 L553.5,288.5 L555.5,288.7 L557.5,288.9 L559.5,289.1 L561.5,289.4 L563.5,289.6 L565.5,289.8 L567.5,290.0 L569.5,290.2 L571.5,290.4 L573.5,290.6 L575.5,290.8 L577.5,291.1 L579.5,291.3 L581.5,291.5 L583.5,291.7 L585.5,291.9 L587.5,292.1 L589.5,292.3 L591.5,292.4 L593.5,292.6 L595.5,292.8 L597.5,293.0 L599.5,293.2 L601.5,293.4 L603.5,293.6 L605.5,293.8 L607.5,294.0 L609.5,294.2 L611.5,294.4 L613.5,294.6 L615.5,294.8 L617.5,295.0 L619.5,295.2 L621.5,295.4 L623.5,295.6 L625.5,295.8 L627.5,296.1 L629.5,296.3 L631.5,296.5 L633.5,296.7 L635.5,296.9 L637.5,297.1 L639.5,297.3 L641.5,297.5 L643.5,297.7 L645.5,297.9 L647.5,298.1 L649.5,298.3 L651.5,298.6 L653.5,298.8 L655.5,299.0 L657.5,299.2 L659.5,299.4 L661.5,299.6 L663.5,299.8 L665.5,300.1 L667.5,300.3 L669.5,300.5 L671.5,300.7 L673.5,300.9 L675.5,301.2 L677.5,301.4 L679.5,301.6 L681.5,301.8 L683.5,302.1 L685.5,302.3 L687.5,302.5 L689.5,302.7 L691.5,303.0 L693.5,303.2 L695.5,303.4 L697.5,303.7 L699.5,303.9 L701.5,304.1 L703.5,304.4 L705.5,304.6 L707.5,304.8 L709.5,305.1 L711.5,305.3 L713.5,305.5 L715.5,305.7 L717.5,306.0 L719.5,306.2 L721.5,306.5 L723.5,306.7 L725.5,306.9 L727.5,307.2 L729.5,307.4 L731.5,307.6 L733.5,307.9 L735.5,308.1 L737.5,308.3 L739.5,308.5 L741.5,308.8 L743.5,309.0 L745.5,309.2 L747.5,309.5 L749.5,309.7 L751.5,309.9 L753.5,310.2 L755.5,310.4 L757.5,310.6 L759.5,310.8 L761.5,311.1 L763.5,311.3 L765.5,311.5 L767.5,311.8 L769.5,312.0 L771.5,312.2 L773.5,312.4 L775.5,312.6 L777.5,312.9 L779.5,313.1 L781.5,313.3 L783.5,313.5 L785.5,313.7 L787.5,313.9 L789.5,314.2 L791.5,314.4 L793.5,314.6 L795.5,314.8 L797.5,315.0 L799.5,315.2 L801.5,315.4 L803.5,315.6 L805.5,315.8 L807.5,316.0 L809.5,316.2 L811.5,316.4 L813.5,316.6 L815.5,316.8 L817.5,317.0 L819.5,317.2 L821.5,317.4 L823.5,317.6 L825.5,317.8 L827.5,317.9 L829.5,318.1 L831.5,318.3 L833.5,318.5 L835.5,318.7 L837.5,318.8 L839.5,319.0 L841.5,319.2 L843.5,319.4 L845.5,319.5 L847.5,319.7 L849.5,319.9 L851.5,320.0 L853.5,320.2 L855.5,320.4 L857.5,320.5 L859.5,320.7 L860.5,320.8" stroke="#000000" stroke-dasharray="3.5 8.25" stroke-dashoffset="3.34"/>
</g>
<g shape-rendering="crispEdges">
<rect x="93" y="510" width="854" height="34" fill="#000"/>
<rect x="91" y="508" width="854" height="34" fill="#000"/>
<rect x="93" y="510" width="850" height="30" fill="#fff"/>
</g>
<g style="font-family:'Liberation Serif','Times New Roman',serif;font-weight:bold;font-size:17.7px" fill="#000">
<line x1="98" y1="525" x2="136" y2="525" stroke="#000080" stroke-width="2" shape-rendering="crispEdges"/>
<g stroke="#000" stroke-width="0.35"><text transform="translate(140,531) scale(1.083,1)">К1</text></g>
<line x1="173" y1="525" x2="211" y2="525" stroke="#FF00FF" stroke-width="2" shape-rendering="crispEdges"/>
<g stroke="#000" stroke-width="0.35"><text transform="translate(215,531) scale(1.083,1)">К2</text></g>
<line x1="248" y1="525" x2="286" y2="525" stroke="#FFFF00" stroke-width="2" shape-rendering="crispEdges"/>
<g stroke="#000" stroke-width="0.35"><text transform="translate(290,531) scale(1.083,1)">К3</text></g>
<line x1="323" y1="525" x2="361" y2="525" stroke="#00FF00" stroke-width="2" shape-rendering="crispEdges"/>
<g stroke="#000" stroke-width="0.35"><text transform="translate(365,531) scale(1.083,1)">К4</text></g>
<line x1="398" y1="525" x2="436" y2="525" stroke="#800080" stroke-width="2" shape-rendering="crispEdges"/>
<g stroke="#000" stroke-width="0.35"><text transform="translate(440,531) scale(1.083,1)">К5</text></g>
<line x1="473" y1="525" x2="511" y2="525" stroke="#FF6600" stroke-width="2" shape-rendering="crispEdges"/>
<g stroke="#000" stroke-width="0.35"><text transform="translate(515,531) scale(1.083,1)">К6</text></g>
<line x1="548" y1="525" x2="586" y2="525" stroke="#008080" stroke-width="2" shape-rendering="crispEdges"/>
<g stroke="#000" stroke-width="0.35"><text transform="translate(590,531) scale(1.083,1)">К7</text></g>
<line x1="623" y1="525" x2="661" y2="525" stroke="#0000FF" stroke-width="2" shape-rendering="crispEdges"/>
<g stroke="#000" stroke-width="0.35"><text transform="translate(665,531) scale(1.083,1)">К8</text></g>
<line x1="698" y1="525" x2="736" y2="525" stroke="#000000" stroke-width="2" shape-rendering="crispEdges"/>
<g stroke="#000" stroke-width="0.35"><text transform="translate(740,531) scale(1.083,1)">n=1</text></g>
<line x1="779" y1="525" x2="815" y2="525" stroke="#000000" stroke-width="2" stroke-dasharray="14 8" shape-rendering="crispEdges"/>
<g stroke="#000" stroke-width="0.35"><text transform="translate(822,531) scale(1.083,1)">n=2</text></g>
<line x1="861" y1="525" x2="900" y2="525" stroke="#000000" stroke-width="2" stroke-dasharray="4 8" shape-rendering="crispEdges"/>
<g stroke="#000" stroke-width="0.35"><text transform="translate(904,531) scale(1.083,1)">n=3</text></g>
</g>
</svg>
</body></html>
